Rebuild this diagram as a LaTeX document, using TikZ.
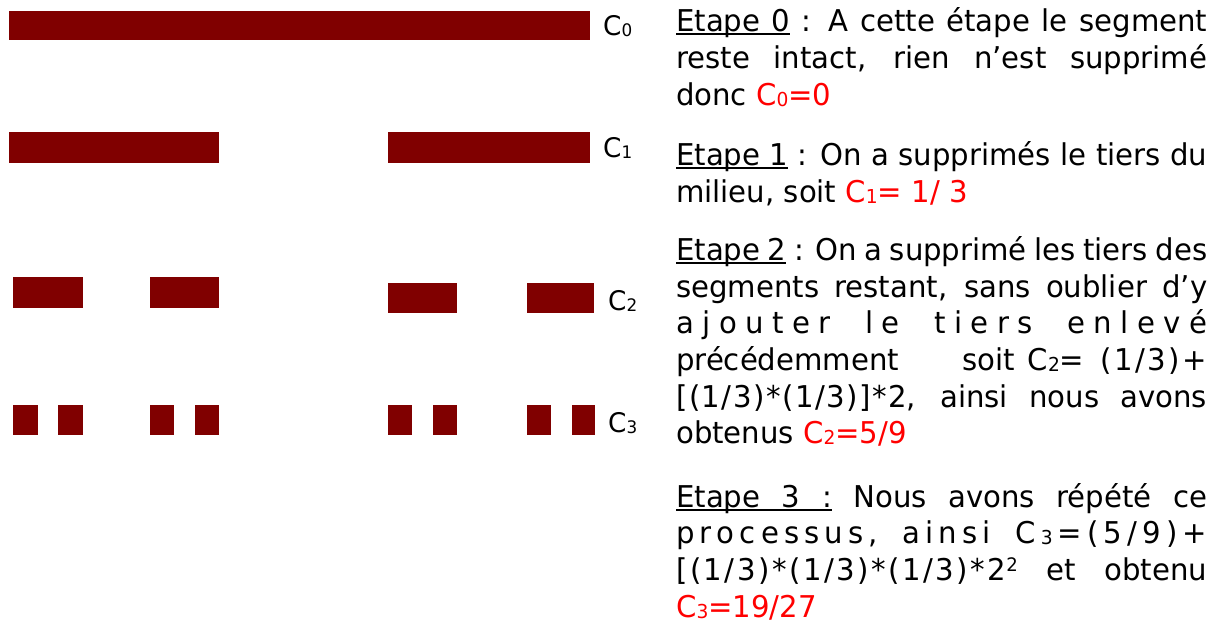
\documentclass[tikz,border=0pt]{standalone}
\usepackage{fontspec}
\setmainfont{DejaVu Sans Condensed}[FakeStretch=1.08]
\definecolor{barred}{RGB}{128,0,0}
\definecolor{txtred}{RGB}{255,0,0}
\newsavebox\ulbox
\newcommand\ulx[1]{\leavevmode\sbox\ulbox{#1}\rlap{\rule[-3.5pt]{\wd\ulbox}{2pt}}\usebox\ulbox}
\newcommand\ulsp{\leaders\hrule height -1.5pt depth 3.5pt\hskip\fontdimen2\font plus\fontdimen3\font minus\fontdimen4\font\relax}
\newcommand\jl[1]{\makebox[531pt][s]{#1}}
\newcommand\rd[1]{\textcolor{txtred}{#1}}
\newcommand\sbs[1]{\raisebox{-1.8pt}{\scalebox{0.64}{#1}}}
\newcommand\sps[1]{\raisebox{9pt}{\scalebox{0.62}{#1}}}
\newcommand\lk{\kern2.5pt}
\newcommand\lkk{\kern1.5pt}
\newcommand\lgap{\hskip 1pt plus 1fil\relax}
\newcommand\wgap{\hskip 12pt plus 3fil\relax}
\tikzset{
  txtline/.style={anchor=base west, inner sep=0pt, font=\fontsize{30}{36}\selectfont},
  lab/.style={anchor=base west, inner sep=0pt, font=\fontsize{27}{32}\selectfont},
  seg/.style={fill=barred}
}
\begin{document}
\begin{tikzpicture}[x=1pt,y=-1pt]
\useasboundingbox (0,0) rectangle (1222,622);
% C0
\fill[seg] (9,11) rectangle (590,40);
% C1
\fill[seg] (9,132) rectangle (219,163);
\fill[seg] (388,132) rectangle (590,163);
% C2
\fill[seg] (13,277) rectangle (83,308);
\fill[seg] (150,277) rectangle (219,308);
\fill[seg] (388,283) rectangle (457,313);
\fill[seg] (527,283) rectangle (594,313);
% C3
\foreach \a/\b in {13/38,58/83,150/174,195/219,388/412,433/457,527/551,572/595}
  \fill[seg] (\a,405) rectangle (\b,435);
% labels
\node[lab] (l0) at (603,35) {C\sbs{0}};
\node[lab] (l1) at (603,157) {C\sbs{1}};
\node[lab] (l2) at (608,310) {C\sbs{2}};
\node[lab] (l3) at (608,432) {C\sbs{3}};
% text
\node[txtline] (t1) at (676,31.7) {\jl{\ulx{Etape}\ulsp\ulx{0} : A cette étape le segment}};
\node[txtline] (t2) at (676,68.3) {\jl{reste intact, rien n’est supprimé}};
\node[txtline] (t3) at (676,105) {donc \rd{C\sbs{0}=0}};
\node[txtline] (t4) at (676,165) {\jl{\ulx{Etape}\ulsp\ulx{1} : On a supprimés le tiers du}};
\node[txtline] (t5) at (676,202) {milieu, soit \rd{C\sbs{1}= 1/ 3}};
\node[txtline] (t6) at (676,260) {\jl{\ulx{Etape}\ulsp\ulx{2} : On a supprimé les tiers des}};
\node[txtline] (t7) at (676,297) {\jl{segments restant, sans oublier d’y}};
\node[txtline] (t8) at (676,333) {\jl{a\lgap j\lgap o\lgap u\lgap t\lgap e\lgap r\wgap l\lgap e\wgap t\lgap i\lgap e\lgap r\lgap s\wgap e\lgap n\lgap l\lgap e\lgap v\lgap é}};
\node[txtline] (t9) at (676,370) {\jl{précédemment\hskip 40pt plus 3fil soit\hskip 8pt plus 0.6fil C\sbs{2}=\hskip 10pt plus 0.8fil (\lk1\lk/\lk3\lk)\lk+}};
\node[txtline] (t10) at (676,407) {\jl{[\lkk(\lkk1\lkk/\lkk3\lkk)\lkk*\lkk(\lkk1\lkk/\lkk3\lkk)\lkk]\lkk*\lkk2, ainsi nous avons}};
\node[txtline] (t11) at (676,443) {obtenus \rd{C\sbs{2}=5/9}};
\node[txtline] (t12) at (676,507) {\jl{\ulx{Etape}\ulsp\ulx{3}\ulsp\ulx{:} Nous avons répété ce}};
\node[txtline] (t13) at (676,543) {\jl{p\lgap r\lgap o\lgap c\lgap e\lgap s\lgap s\lgap u\lgap s\lgap ,\wgap a\lgap i\lgap n\lgap s\lgap i\wgap C\lgap\sbs{3}\lgap =\lgap (\lgap 5\lgap /\lgap 9\lgap )\lgap +}};
\node[txtline] (t14) at (676,580) {\jl{[\lk(\lk1\lk/\lk3\lk)\lk*\lk(\lk1\lk/\lk3\lk)\lk*\lk(\lk1\lk/\lk3\lk)\lk*\lk2\sps{2} et obtenu}};
\node[txtline] (t15) at (676,617) {\rd{C\sbs{3}=19/27}};
\end{tikzpicture}
\end{document}
